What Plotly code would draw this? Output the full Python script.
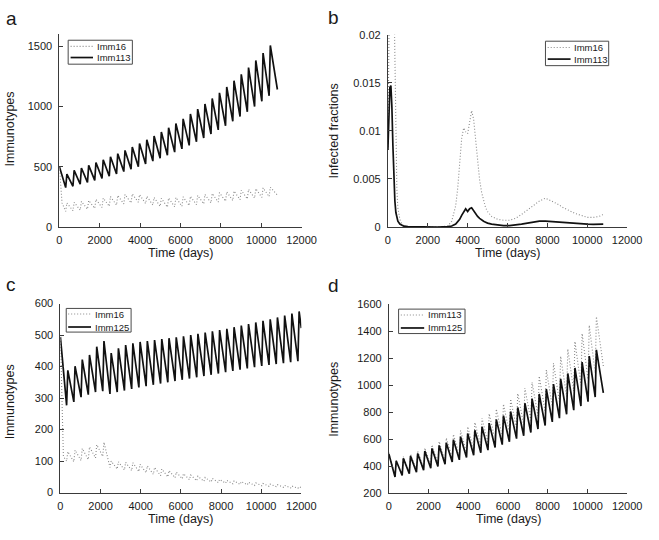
import plotly.graph_objects as go

W, H = 659, 540
FONT = "Liberation Sans, Arial, sans-serif"
AX = "#3a3a3a"
TXT = "#1a1a1a"
BLACK = "#111111"
GREY = "#8a8a8a"

# ---------------- data ----------------
# yearly boost timing (days): value just before boost, value at top of boost
trough_days = [310, 670, 1030, 1390, 1750, 2110, 2470, 2830, 3190, 3550, 3910, 4270, 4630,
               4990, 5350, 5710, 6070, 6430, 6790, 7150, 7510, 7870, 8230, 8590, 8950, 9310,
               9670, 10030, 10390, 10750, 11110, 11470, 11830]
peak_days = [370, 730, 1090, 1450, 1810, 2170, 2530, 2890, 3250, 3610, 3970, 4330, 4690,
             5050, 5410, 5770, 6130, 6490, 6850, 7210, 7570, 7930, 8290, 8650, 9010, 9370,
             9730, 10090, 10450, 10810, 11170, 11530, 11890]

# panel a / d : Imm113
imm113_head_days = [0]
imm113_head = [500]
imm113_troughs = [327, 338, 355, 370, 387, 404, 421, 440, 460, 480, 501, 523, 547, 571, 596,
                  622, 649, 678, 708, 739, 772, 806, 841, 878, 917, 957, 1000, 1044, 1090]
imm113_peaks = [440, 470, 490, 512, 535, 558, 583, 609, 636, 664, 693, 724, 756, 789, 824,
                860, 898, 938, 979, 1022, 1067, 1114, 1163, 1215, 1268, 1324, 1383, 1444, 1508]
imm113_end = [10800, 1142]

# panel a : Imm16
a16_head_days = [0, 130]
a16_head = [500, 200]
a16_troughs = [130, 135, 140, 148, 155, 162, 172, 182, 192, 200, 205, 195, 182, 172, 165,
               168, 172, 178, 185, 192, 200, 207, 214, 220, 227, 233, 240, 246, 252]
a16_peaks = [200, 205, 212, 220, 230, 240, 252, 262, 270, 275, 268, 255, 245, 238, 240,
             245, 250, 255, 262, 270, 278, 285, 292, 298, 305, 312, 318, 325, 330]
a16_end = [10800, 265]

# panel b : infected fractions
b_days = [0, 50, 100, 150, 200, 250, 300, 350, 400, 450, 500, 600, 700, 800, 1000, 1500,
          2000, 2500, 3000, 3200, 3400, 3500, 3600, 3700, 3800, 3900, 4000, 4100, 4200,
          4300, 4400, 4500, 4600, 4700, 4800, 4900, 5000, 5200, 5500, 5800, 6100, 6400,
          6700, 7000, 7300, 7600, 7900, 8200, 8500, 8800, 9100, 9400, 9700, 10000, 10300,
          10600, 10800]
b_imm16 = [0.008, 0.022, 0.030, 0.034, 0.034, 0.031, 0.025, 0.017, 0.008, 0.004, 0.002,
           0.0008, 0.0003, 0.0001, 0.00004, 0.0, 0.0, 0.0, 0.0001, 0.0006, 0.0022, 0.004,
           0.0068, 0.0092, 0.0103, 0.0099, 0.0097, 0.0108, 0.0121, 0.0112, 0.0088, 0.0066,
           0.0049, 0.0036, 0.0027, 0.002, 0.0016, 0.0011, 0.0008, 0.0007, 0.0007, 0.0009,
           0.0013, 0.0018, 0.0023, 0.0027, 0.003, 0.0027, 0.0024, 0.002, 0.0017, 0.0014,
           0.0012, 0.001, 0.001, 0.0011, 0.0013]
b_imm113 = [0.008, 0.0125, 0.0145, 0.0147, 0.0125, 0.0085, 0.005, 0.0027, 0.0015, 0.0009,
            0.0006, 0.0003, 0.00015, 0.00008, 0.00003, 0.0, 0.0, 0.0, 0.00003, 0.0001,
            0.0003, 0.0005, 0.0008, 0.0012, 0.0016, 0.0019, 0.0016, 0.0019, 0.002, 0.0017,
            0.0013, 0.0011, 0.0009, 0.0007, 0.0006, 0.0005, 0.0004, 0.0003, 0.0002,
            0.00015, 0.00015, 0.0002, 0.0003, 0.0004, 0.0005, 0.0006, 0.0006, 0.00055,
            0.0005, 0.00045, 0.0004, 0.00035, 0.0003, 0.0003, 0.00028, 0.00028, 0.0003]

# panel c : Imm16 and Imm125
c16_head_days = [0, 150]
c16_head = [500, 115]
c16_troughs = [100, 98, 102, 105, 110, 115, 80, 75, 72, 70, 67, 63, 58, 54, 50, 47, 44, 41,
               38, 36, 34, 32, 30, 28, 26, 25, 23, 22, 20, 19, 17, 15, 14]
c16_peaks = [130, 135, 140, 145, 152, 160, 100, 98, 96, 95, 90, 85, 80, 75, 70, 65, 60, 56,
             52, 48, 45, 42, 39, 37, 35, 33, 31, 29, 27, 25, 23, 21, 19]
c16_end = [12000, 16]

c125_head_days = [0]
c125_head = [494]
c125_troughs = [277, 288, 303, 311, 319, 322, 313, 319, 324, 329, 334, 338, 342, 346, 350,
                354, 358, 362, 366, 370, 374, 378, 382, 386, 390, 394, 398, 402, 405, 408,
                411, 414, 417]
c125_peaks = [388, 401, 422, 437, 463, 481, 443, 458, 468, 474, 478, 481, 484, 487, 490,
              493, 496, 500, 504, 508, 512, 516, 520, 525, 530, 535, 540, 545, 550, 556,
              562, 568, 575]
c125_end = [12000, 522]

# panel d : Imm125
d125_head_days = [0]
d125_head = [490]
d125_troughs = [320, 331, 344, 356, 371, 385, 399, 415, 431, 447, 464, 482, 500, 519, 539,
                560, 581, 604, 626, 650, 676, 701, 728, 756, 785, 815, 846, 878, 912]
d125_peaks = [441, 458, 475, 494, 513, 532, 553, 574, 596, 619, 642, 667, 692, 719, 746,
              775, 805, 835, 867, 901, 935, 971, 1008, 1047, 1087, 1128, 1171, 1216, 1262]
d125_end = [10800, 944]

x_ticks = [0, 2000, 4000, 6000, 8000, 10000, 12000]
x_ticktext = ["0", "2000", "4000", "6000", "8000", "10000", "12000"]
a_yticks = [0, 500, 1000, 1500]
b_yticks = [0, 0.005, 0.01, 0.015, 0.02]
b_yticktext = ["0", "0.005", "0.01", "0.015", "0.02"]
c_yticks = [0, 100, 200, 300, 400, 500, 600]
d_yticks = [200, 400, 600, 800, 1000, 1200, 1400, 1600]


def sawtooth(head_days, head_vals, troughs, peaks, end):
    xs, ys = list(head_days), list(head_vals)
    for k, (tr, pk) in enumerate(zip(troughs, peaks)):
        xs += [trough_days[k], peak_days[k]]
        ys += [tr, pk]
    xs.append(end[0])
    ys.append(end[1])
    return xs, ys


fig = go.Figure()

solid = dict(color=BLACK, width=1.7)
dotted = dict(color=GREY, width=1.1, dash="1px,2px")

# panel a
x, y = sawtooth(a16_head_days, a16_head, a16_troughs, a16_peaks, a16_end)
fig.add_trace(go.Scatter(x=x, y=y, mode="lines", line=dotted, name="Imm16", xaxis="x", yaxis="y"))
x, y = sawtooth(imm113_head_days, imm113_head, imm113_troughs, imm113_peaks, imm113_end)
fig.add_trace(go.Scatter(x=x, y=y, mode="lines", line=solid, name="Imm113", xaxis="x", yaxis="y"))

# panel b
fig.add_trace(go.Scatter(x=b_days, y=b_imm16, mode="lines", line=dotted, name="Imm16", xaxis="x2", yaxis="y2"))
fig.add_trace(go.Scatter(x=b_days, y=b_imm113, mode="lines", line=solid, name="Imm113", xaxis="x2", yaxis="y2"))

# panel c
x, y = sawtooth(c16_head_days, c16_head, c16_troughs, c16_peaks, c16_end)
fig.add_trace(go.Scatter(x=x, y=y, mode="lines", line=dotted, name="Imm16", xaxis="x3", yaxis="y3"))
x, y = sawtooth(c125_head_days, c125_head, c125_troughs, c125_peaks, c125_end)
fig.add_trace(go.Scatter(x=x, y=y, mode="lines", line=solid, name="Imm125", xaxis="x3", yaxis="y3"))

# panel d
x, y = sawtooth(imm113_head_days, imm113_head, imm113_troughs, imm113_peaks, imm113_end)
fig.add_trace(go.Scatter(x=x, y=y, mode="lines", line=dotted, name="Imm113", xaxis="x4", yaxis="y4"))
x, y = sawtooth(d125_head_days, d125_head, d125_troughs, d125_peaks, d125_end)
fig.add_trace(go.Scatter(x=x, y=y, mode="lines", line=solid, name="Imm125", xaxis="x4", yaxis="y4"))


def px_x(p):
    return p / W


def px_y(p):
    return 1 - p / H


axis_common = dict(showline=True, linecolor=AX, linewidth=1, ticks="inside", ticklen=4,
                   tickcolor=AX, tickwidth=1, showgrid=False, zeroline=False,
                   tickfont=dict(size=11, color=TXT, family=FONT), fixedrange=True)

panels = {
    # name: (left, right, top, bottom, yrange, ytickvals, yticktext)
    "1": (58, 307, 29, 226, [0, 1600], a_yticks, [str(v) for v in a_yticks]),
    "2": (395.7, 641.7, 29.3, 226, [0, 0.02], b_yticks, b_yticktext),
    "3": (59, 306.7, 304.3, 497.7, [0, 600], c_yticks, [str(v) for v in c_yticks]),
    "4": (396.7, 641.7, 305, 498.3, [200, 1600], d_yticks, [str(v) for v in d_yticks]),
}

layout = dict(width=W, height=H, margin=dict(l=0, r=0, t=0, b=0),
              paper_bgcolor="white", plot_bgcolor="white", showlegend=False,
              font=dict(family=FONT, color=TXT))
for k, (l, r, t, b, yr, yv, yt) in panels.items():
    xs = "xaxis" if k == "1" else "xaxis" + k
    ys = "yaxis" if k == "1" else "yaxis" + k
    anchor_x = "x" if k == "1" else "x" + k
    anchor_y = "y" if k == "1" else "y" + k
    layout[xs] = dict(axis_common, domain=[px_x(l), px_x(r)], range=[0, 12000],
                      tickvals=x_ticks, ticktext=x_ticktext, anchor=anchor_y,
                      ticklabelstandoff=3)
    layout[ys] = dict(axis_common, domain=[px_y(b), px_y(t)], range=yr,
                      tickvals=yv, ticktext=yt, anchor=anchor_x, ticklabelstandoff=4)
fig.update_layout(**layout)

annotations = []
shapes = []


def text(s, x, y, size, angle=0, xanchor="center", yanchor="middle"):
    annotations.append(dict(text=s, x=px_x(x), y=px_y(y), xref="paper", yref="paper",
                            showarrow=False, textangle=angle, xanchor=xanchor,
                            yanchor=yanchor, font=dict(size=size, family=FONT, color=TXT)))


# panel letters
for s, x, y in [("a", 1, 0), ("b", 332, -1), ("c", 1, 272), ("d", 332, 273)]:
    text(s, x, y, 19, xanchor="left", yanchor="top")

# axis titles
for x, y in [(183, 253), (519, 253), (183, 525), (520, 525)]:
    text("Time (days)", x, y, 12.5)
text("Immunotypes", 7.5, 126, 12.5, angle=-90)
text("Infected fractions", 340, 127.5, 12.5, angle=-90)
text("Immunotypes", 7.5, 405, 12.5, angle=-90)
text("Immunotypes", 340, 402, 12.5, angle=-90)


def legend(box, entries, line_x, text_x, ys):
    x0, y0, x1, y1 = box
    shapes.append(dict(type="rect", xref="paper", yref="paper", x0=px_x(x0), x1=px_x(x1),
                       y0=px_y(y1), y1=px_y(y0), line=dict(color="#4a4a4a", width=1),
                       fillcolor="white", layer="above"))
    for (label, style), yy in zip(entries, ys):
        shapes.append(dict(type="line", xref="paper", yref="paper", x0=px_x(line_x[0]),
                           x1=px_x(line_x[1]), y0=px_y(yy), y1=px_y(yy),
                           line=style, layer="above"))
        text(label, text_x, yy, 9.5, xanchor="left")


legend((67, 35, 133, 59.5), [("Imm16", dotted), ("Imm113", solid)], (69.5, 92.5), 94.5, (41.3, 52.7))
legend((557.7, 36, 622.7, 61), [("Imm16", dotted), ("Imm113", solid)], (560, 583.5), 585, (42.5, 54.3))
legend((65, 309.3, 131.7, 333.5), [("Imm16", dotted), ("Imm125", solid)], (67, 90.5), 92.5, (315, 328.3))
legend((406.7, 310, 475, 335), [("Imm113", dotted), ("Imm125", solid)], (409, 433), 435, (316, 329.3))

fig.update_layout(annotations=annotations, shapes=shapes)
fig.write_html("out.html", config={"displayModeBar": False},
               post_script="document.body.style.margin='0';document.body.style.overflow='hidden';")
